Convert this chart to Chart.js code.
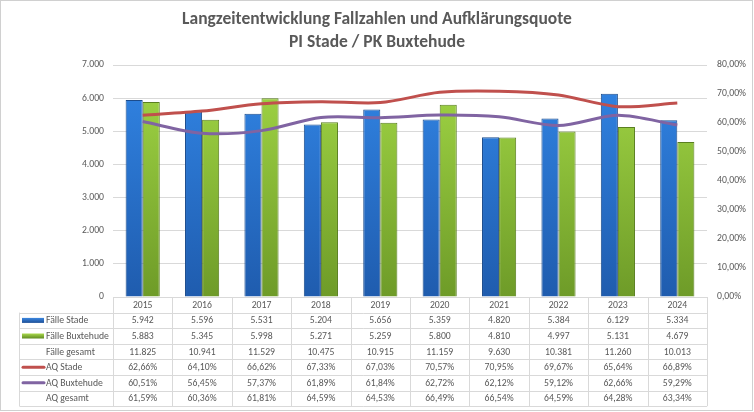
<!DOCTYPE html>
<html>
<head>
<meta charset="utf-8">
<script src="https://cdn.jsdelivr.net/npm/chart.js@4.4.1/dist/chart.umd.min.js"></script>
<style>
  html, body { margin: 0; padding: 0; background: #ffffff; }
  #wrap { position: relative; width: 754px; height: 412px; }
</style>
</head>
<body>
<div id="wrap"><canvas id="c" width="754" height="412"></canvas></div>
<script>
// ---- data ----
const years = ['2015','2016','2017','2018','2019','2020','2021','2022','2023','2024'];
const faelleStade = [5942, 5596, 5531, 5204, 5656, 5359, 4820, 5384, 6129, 5334];
const faelleBuxtehude = [5883, 5345, 5998, 5271, 5259, 5800, 4810, 4997, 5131, 4679];
const faelleGesamt = [11825, 10941, 11529, 10475, 10915, 11159, 9630, 10381, 11260, 10013];
const aqStade = [62.66, 64.10, 66.62, 67.33, 67.03, 70.57, 70.95, 69.67, 65.64, 66.89];
const aqBuxtehude = [60.51, 56.45, 57.37, 61.89, 61.84, 62.72, 62.12, 59.12, 62.66, 59.29];
const aqGesamt = [61.59, 60.36, 61.81, 64.59, 64.53, 66.49, 66.54, 64.59, 64.28, 63.34];
const titleLines = ['Langzeitentwicklung Fallzahlen und Aufklärungsquote', 'PI Stade / PK Buxtehude'];
const rowLabels = ['Fälle Stade', 'Fälle Buxtehude', 'Fälle gesamt', 'AQ Stade', 'AQ Buxtehude', 'AQ gesamt'];

// ---- fonts ----
const mctx = document.createElement('canvas').getContext('2d');
function hasFont(name) {
  const s = 'abcdefghijklmnopqrstuvwxyzÄÖÜ 0123456789';
  mctx.font = '20px monospace'; const a = mctx.measureText(s).width;
  mctx.font = "20px '" + name + "', monospace"; const b = mctx.measureText(s).width;
  mctx.font = '20px serif'; const c = mctx.measureText(s).width;
  mctx.font = "20px '" + name + "', serif"; const d = mctx.measureText(s).width;
  return a !== b || c !== d;
}
const FAMILY = ['Carlito', 'Calibri', 'Liberation Sans Narrow', 'Lato', 'Open Sans'].find(hasFont) || 'sans-serif';
function fitSize(text, target, weight, maxSize) {
  mctx.font = weight + ' 20px ' + "'" + FAMILY + "'";
  const w = mctx.measureText(text).width;
  return Math.min(maxSize, 20 * target / w);
}
const baseSize = fitSize('Fälle Buxtehude', 63, 'normal', 10.5);
const titleSize = fitSize(titleLines[0], 390, 'bold', 19);
const TXT = '#595959';
const GRID = '#d9d9d9';

const fmtInt = v => v.toLocaleString('de-DE');
const fmtPct = v => v.toLocaleString('de-DE', { minimumFractionDigits: 2, maximumFractionDigits: 2 }) + '%';

Chart.defaults.font.family = "'" + FAMILY + "', sans-serif";
Chart.defaults.font.size = baseSize;
Chart.defaults.color = TXT;

function vGrad(ctx, top, bottom) {
  const ca = ctx.chart.chartArea;
  if (!ca) return top;
  const g = ctx.chart.ctx.createLinearGradient(0, ca.top, 0, ca.bottom);
  g.addColorStop(0, top);
  g.addColorStop(1, bottom);
  return g;
}

const tablePlugin = {
  id: 'tablePlugin',
  beforeDraw(chart) {
    const c = chart.ctx;
    c.save();
    c.fillStyle = '#ffffff';
    c.fillRect(0, 0, chart.width, chart.height);
    c.strokeStyle = '#d0d0d0';
    c.lineWidth = 1;
    c.strokeRect(0.5, 0.5, 752, 410);
    c.restore();
  },
  afterDraw(chart) {
    const c = chart.ctx;
    const x = chart.scales.x;
    const ca = chart.chartArea;
    const n = years.length;
    const colW = (x.right - x.left) / n;
    const rowH = 15.6;
    const top = ca.bottom;
    const labelLeft = 19.5;
    const nRows = 1 + rowLabels.length;
    const bottom = top + nRows * rowH;
    c.save();
    // title
    c.fillStyle = TXT;
    c.textAlign = 'center';
    c.textBaseline = 'middle';
    c.font = "bold " + titleSize + "px '" + FAMILY + "', sans-serif";
    c.fillText(titleLines[0], 377, 20);
    c.fillText(titleLines[1], 377, 43);

    // grid lines of table
    c.strokeStyle = GRID;
    c.lineWidth = 1;
    c.beginPath();
    for (let r = 0; r <= nRows; r++) {
      const y = Math.round(top + r * rowH) + 0.5;
      c.moveTo(r === 0 ? x.left : labelLeft, y);
      c.lineTo(x.right, y);
    }
    for (let i = 0; i <= n; i++) {
      const xx = Math.round(x.left + i * colW) + 0.5;
      c.moveTo(xx, top);
      c.lineTo(xx, bottom);
    }
    c.moveTo(labelLeft, top + rowH);
    c.lineTo(labelLeft, bottom);
    c.stroke();

    // text
    c.font = baseSize + "px '" + FAMILY + "', sans-serif";
    c.fillStyle = TXT;
    c.textAlign = 'center';
    c.textBaseline = 'middle';
    const rows = [
      faelleStade.map(fmtInt), faelleBuxtehude.map(fmtInt), faelleGesamt.map(fmtInt),
      aqStade.map(fmtPct), aqBuxtehude.map(fmtPct), aqGesamt.map(fmtPct)
    ];
    years.forEach((yv, i) => {
      c.fillText(yv, x.getPixelForValue(i), top + rowH / 2 + 0.5);
    });
    rows.forEach((vals, r) => {
      const cy = top + (r + 1) * rowH + rowH / 2 + 0.5;
      vals.forEach((v, i) => c.fillText(v, x.getPixelForValue(i), cy));
    });
    // row labels + legend keys
    c.textAlign = 'left';
    rowLabels.forEach((lab, r) => {
      const cy = top + (r + 1) * rowH + rowH / 2;
      c.fillStyle = TXT;
      c.fillText(lab, 46, cy + 0.5);
      if (r === 0 || r === 1) {
        const g = c.createLinearGradient(0, cy - 2.5, 0, cy + 2.5);
        if (r === 0) { g.addColorStop(0, '#3b87e0'); g.addColorStop(1, '#1d4f97'); }
        else { g.addColorStop(0, '#a9d94c'); g.addColorStop(1, '#5f8a22'); }
        c.fillStyle = g;
        c.fillRect(22, cy - 2.5, 22, 5);
      } else if (r === 3 || r === 4) {
        c.strokeStyle = r === 3 ? '#c0504d' : '#8064a2';
        c.lineWidth = 3;
        c.lineCap = 'round';
        c.beginPath();
        c.moveTo(23, cy);
        c.lineTo(44, cy);
        c.stroke();
      }
    });
    c.restore();
  }
};

new Chart(document.getElementById('c'), {
  type: 'bar',
  data: {
    labels: years,
    datasets: [
      {
        label: 'AQ Stade', type: 'line', data: aqStade, yAxisID: 'y1', order: 0,
        borderColor: '#c0504d', borderWidth: 3, pointRadius: 0, tension: 0.3, fill: false
      },
      {
        label: 'AQ Buxtehude', type: 'line', data: aqBuxtehude, yAxisID: 'y1', order: 0,
        borderColor: '#8064a2', borderWidth: 3, pointRadius: 0, tension: 0.3, fill: false
      },
      {
        label: 'Fälle Stade', data: faelleStade, yAxisID: 'y', order: 1,
        backgroundColor: ctx => vGrad(ctx, '#3286e6', '#1f5cae'),
        borderColor: '#1c4c8c', borderWidth: 1,
        categoryPercentage: 0.575, barPercentage: 1
      },
      {
        label: 'Fälle Buxtehude', data: faelleBuxtehude, yAxisID: 'y', order: 1,
        backgroundColor: ctx => vGrad(ctx, '#a3d846', '#6e9b28'),
        borderColor: '#5a7f20', borderWidth: 1,
        categoryPercentage: 0.575, barPercentage: 1
      }
    ]
  },
  options: {
    responsive: false,
    animation: false,
    events: [],
    layout: { padding: { top: 65, bottom: 115, left: 0, right: 0 } },
    plugins: { legend: { display: false }, tooltip: { enabled: false }, title: { display: false } },
    scales: {
      x: { display: false, offset: true },
      y: {
        position: 'left', min: 0, max: 7000,
        ticks: { stepSize: 1000, padding: 9, color: TXT, callback: v => fmtInt(v) },
        grid: { color: GRID, drawTicks: false },
        border: { display: false },
        afterFit: s => { s.width = 113; }
      },
      y1: {
        position: 'right', min: 0, max: 80,
        ticks: { stepSize: 10, padding: 10, color: TXT, callback: v => fmtPct(v) },
        grid: { display: false, drawTicks: false },
        border: { display: false },
        afterFit: s => { s.width = 47; }
      }
    }
  },
  plugins: [tablePlugin]
});
</script>
</body>
</html>
